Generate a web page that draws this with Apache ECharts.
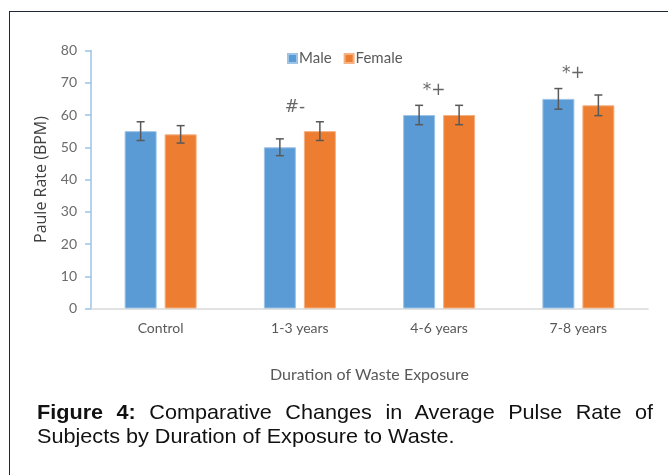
<!DOCTYPE html>
<html>
<head>
<meta charset="utf-8">
<script src="https://cdn.jsdelivr.net/npm/echarts@6/dist/echarts.min.js"></script>
<style>
html, body { margin: 0; padding: 0; background: #fff; }
#frame { position: absolute; left: 9px; top: 11px; width: 680px; height: 480px;
         border-left: 1.5px solid #1c2836; border-top: 1.5px solid #1c2836; }
#main { position: absolute; left: 0; top: 0; width: 668px; height: 475px; }
.cap { position: absolute; left: 37px; font-family: "Liberation Sans", Arial, sans-serif;
       font-size: 21px; line-height: 26px; color: #111; transform: scaleX(1.03); transform-origin: 0 0;
       white-space: nowrap; }
#cap1 { top: 399px; width: 598px; text-align: justify; text-align-last: justify; white-space: normal; }
#cap2 { top: 423px; }
</style>
</head>
<body>
<div id="frame"></div>
<div id="main"></div>
<div class="cap" id="cap1"><b>Figure 4:</b> Comparative Changes in Average Pulse Rate of</div>
<div class="cap" id="cap2">Subjects by Duration of Exposure to Waste.</div>
<script>
var categories = ['Control', '1-3 years', '4-6 years', '7-8 years'];
var maleVals = [55, 50, 60, 65];
var femaleVals = [54, 55, 60, 63];
var maleErr = [2.9, 2.6, 3, 3.2];
var femaleErr = [2.7, 2.9, 3, 3.2];
// significance marks: [category index, y value, text]
var marks = [[1, 62.2, '#-'], [2, 67.6, '*+'], [3, 72.8, '*+']];

var chart = echarts.init(document.getElementById('main'));
var barW = 32, gapPx = 8;

function errSeries(vals, errs, side) {
    var data = vals.map(function (v, i) { return [i, v, errs[i]]; });
    return {
        type: 'custom',
        z: 10,
        silent: true,
        data: data,
        renderItem: function (params, api) {
            var i = api.value(0);
            var hi = api.coord([i, api.value(1) + api.value(2)]);
            var lo = api.coord([i, api.value(1) - api.value(2)]);
            var x = hi[0] + side * (barW + gapPx) / 2;
            var st = { stroke: '#595959', lineWidth: 1.5 };
            return {
                type: 'group',
                children: [
                    { type: 'line', shape: { x1: x, y1: hi[1], x2: x, y2: lo[1] }, style: st },
                    { type: 'line', shape: { x1: x - 4, y1: hi[1], x2: x + 4, y2: hi[1] }, style: st },
                    { type: 'line', shape: { x1: x - 4, y1: lo[1], x2: x + 4, y2: lo[1] }, style: st }
                ]
            };
        }
    };
}

var option = {
    animation: false,
    textStyle: { fontFamily: 'Lato, sans-serif' },
    legend: {
        data: ['Male', 'Female'],
        left: 282, top: 46,
        itemWidth: 9, itemHeight: 9, itemGap: 12,
        icon: 'rect',
        textStyle: { color: '#595959', fontSize: 15, padding: [0, 0, 0, -3] }
    },
    grid: { left: 91, right: 20, top: 50.5, bottom: 166.5 },
    xAxis: {
        type: 'category',
        data: categories,
        axisLine: { lineStyle: { color: '#d9d9d9', width: 1.5 } },
        axisTick: { show: false },
        axisLabel: { color: '#595959', fontSize: 14, margin: 13 },
        name: 'Duration of Waste Exposure',
        nameLocation: 'middle',
        nameGap: 58,
        nameTextStyle: { color: '#595959', fontSize: 16 }
    },
    yAxis: {
        type: 'value',
        min: 0, max: 80, interval: 10,
        splitLine: { show: false },
        axisLine: { show: true, lineStyle: { color: '#9dc3e6', width: 1.5 } },
        axisTick: { show: true, length: 6, lineStyle: { color: '#9dc3e6', width: 1.5 } },
        axisLabel: { color: '#6b6b6b', fontSize: 14, margin: 14 },
        name: 'Paule Rate (BPM)',
        nameLocation: 'middle',
        nameRotate: 90,
        nameGap: 41,
        nameTextStyle: { color: '#404040', fontSize: 16, fontFamily: '"Open Sans", sans-serif' }
    },
    series: [
        {
            name: 'Male', type: 'bar', data: maleVals,
            barWidth: barW, barGap: (gapPx / barW * 100) + '%',
            itemStyle: { color: '#5b9bd5', borderColor: '#9dc3e6', borderWidth: 1 }
        },
        {
            name: 'Female', type: 'bar', data: femaleVals,
            barWidth: barW,
            itemStyle: { color: '#ed7d31', borderColor: '#f4b183', borderWidth: 1 }
        },
        errSeries(maleVals, maleErr, -1),
        errSeries(femaleVals, femaleErr, 1),
        {
            type: 'scatter',
            symbolSize: 0,
            silent: true,
            data: marks,
            label: {
                show: true,
                position: 'inside',
                formatter: function (p) { return p.data[2]; },
                color: '#404040',
                fontSize: 17,
                fontFamily: '"DejaVu Sans", sans-serif',
                offset: [-5, 0]
            }
        }
    ]
};
chart.setOption(option);
</script>
</body>
</html>
